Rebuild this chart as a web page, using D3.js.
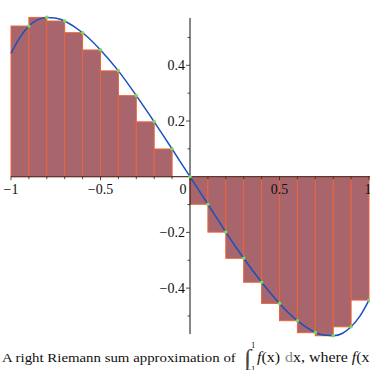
<!DOCTYPE html>
<html>
<head>
<meta charset="utf-8">
<script src="https://cdn.jsdelivr.net/npm/d3@7"></script>
<style>
  body { margin: 0; background: #fff; }
  svg { display: block; }
  text { font-family: "Liberation Serif", serif; }
</style>
</head>
<body>
<svg id="chart" width="370" height="370"></svg>
<script>
// right endpoints of each subinterval and the sampled heights f(x_i)
var rightX = [-0.9, -0.8, -0.7, -0.6, -0.5, -0.4, -0.3, -0.2, -0.1, 0,
              0.1, 0.2, 0.3, 0.4, 0.5, 0.6, 0.7, 0.8, 0.9, 1.0];
var heights = [0.541, 0.572, 0.559, 0.517, 0.455, 0.380, 0.291, 0.197, 0.0995, 0,
               -0.099, -0.199, -0.293, -0.379, -0.455, -0.517, -0.560, -0.571, -0.539, -0.443];
var dxStep = 0.1;

// points
var curveX = [-1, -0.95, -0.9, -0.85, -0.8, -0.75, -0.7, -0.6, -0.5, -0.4, -0.3, -0.2, -0.1, 0,
              0.1, 0.2, 0.3, 0.4, 0.5, 0.6, 0.7, 0.75, 0.8, 0.85, 0.9, 0.95, 1];
var curveY = [0.443, 0.500, 0.541, 0.564, 0.572, 0.569, 0.559, 0.517, 0.455, 0.380, 0.291, 0.197, 0.0995, 0,
              -0.099, -0.199, -0.293, -0.379, -0.455, -0.517, -0.560, -0.569, -0.571, -0.563, -0.539, -0.500, -0.443];

var xTicksMajor = [-1, -0.5, 0, 0.5, 1];
var xTickLabels = ["\u22121", "\u22120.5", "0", "0.5", "1"];
var yTicksMajor = [-0.4, -0.2, 0.2, 0.4];
var yTickLabels = ["\u22120.4", "\u22120.2", "0.2", "0.4"];
var yTicksMinor = [-0.5, -0.3, -0.1, 0.1, 0.3, 0.5];

var svg = d3.select('#chart');

var x = d3.scaleLinear().domain([-1, 1]).range([11, 369]);
var y = d3.scaleLinear().domain([-0.6, 0.6]).range([343.8, 9.6]);

var g = svg.append('g');

// rectangles
g.selectAll('rect.bar')
  .data(rightX.map((d, i) => ({x: d, h: heights[i]})))
  .join('rect')
  .attr('class', 'bar')
  .attr('x', d => x(d.x - dxStep))
  .attr('width', d => x(d.x) - x(d.x - dxStep))
  .attr('y', d => y(Math.max(0, d.h)))
  .attr('height', d => Math.abs(y(d.h) - y(0)))
  .attr('fill', '#a9656c')
  .attr('stroke', '#e9643c')
  .attr('stroke-width', 1);

// x axis line
svg.append('line')
  .attr('x1', x(-1)).attr('x2', 370)
  .attr('y1', y(0)).attr('y2', y(0))
  .attr('stroke', '#5a3a33').attr('stroke-width', 1.2);

// x ticks
var xTicksAll = d3.range(-10, 11).map(d => d / 10);
svg.selectAll('line.xt')
  .data(xTicksAll)
  .join('line')
  .attr('class', 'xt')
  .attr('x1', d => x(d)).attr('x2', d => x(d))
  .attr('y1', y(0)).attr('y2', d => y(0) + (Math.abs(d * 2 - Math.round(d * 2)) < 1e-9 ? 3.5 : 2.5))
  .attr('stroke', '#222').attr('stroke-width', 0.8);

svg.selectAll('text.xl')
  .data(xTicksMajor)
  .join('text')
  .attr('class', 'xl')
  .attr('x', d => d === 0 ? x(d) - 7 : (d === 1 ? x(d) - 1 : x(d)))
  .attr('y', y(0) + 17)
  .attr('text-anchor', 'middle')
  .attr('font-size', 14)
  .attr('fill', '#111')
  .text((d, i) => xTickLabels[i]);

// curve
var line = d3.line()
  .x((d, i) => x(curveX[i]))
  .y(d => y(d))
  .curve(d3.curveNatural);

svg.append('path')
  .attr('d', line(curveY))
  .attr('fill', 'none')
  .attr('stroke', '#1a50c0')
  .attr('stroke-width', 1.5);

// y axis
svg.append('line')
  .attr('x1', x(0)).attr('x2', x(0))
  .attr('y1', y(0.57)).attr('y2', y(-0.565))
  .attr('stroke', '#111').attr('stroke-width', 1);

svg.selectAll('line.ymaj')
  .data(yTicksMajor)
  .join('line')
  .attr('class', 'ymaj')
  .attr('x1', x(0) - 4).attr('x2', x(0))
  .attr('y1', d => y(d)).attr('y2', d => y(d))
  .attr('stroke', '#222').attr('stroke-width', 0.8);

svg.selectAll('line.ymin')
  .data(yTicksMinor)
  .join('line')
  .attr('class', 'ymin')
  .attr('x1', x(0) - 2.5).attr('x2', x(0))
  .attr('y1', d => y(d)).attr('y2', d => y(d))
  .attr('stroke', '#222').attr('stroke-width', 0.8);

svg.selectAll('text.yl')
  .data(yTicksMajor)
  .join('text')
  .attr('class', 'yl')
  .attr('x', x(0) - 5)
  .attr('y', d => y(d) + 4.5)
  .attr('text-anchor', 'end')
  .attr('font-size', 14)
  .attr('fill', '#111')
  .text((d, i) => yTickLabels[i]);

// sample points
svg.selectAll('circle.pt')
  .data(rightX.map((d, i) => ({x: d, h: heights[i]})))
  .join('circle')
  .attr('class', 'pt')
  .attr('cx', d => x(d.x))
  .attr('cy', d => y(d.h))
  .attr('r', 1.8)
  .attr('fill', '#7ed957');

// caption (stretched a little to match the wider serif of the original)
var sx = 1.1;
var cap = svg.append('g').attr('font-size', 13.5).attr('fill', '#111')
  .attr('transform', 'scale(' + sx + ',1)');
cap.append('text').attr('x', 2 / sx).attr('y', 362).text('A right Riemann sum approximation of');
cap.append('text').attr('x', 244 / sx).attr('y', 366).attr('font-size', 24).attr('fill', '#444').text('\u222B');
cap.append('text').attr('x', 251 / sx).attr('y', 348).attr('font-size', 8).text('1');
cap.append('text').attr('x', 246 / sx).attr('y', 372).attr('font-size', 8).text('\u22121');
var t2 = cap.append('text').attr('x', 257 / sx).attr('y', 362).attr('font-size', 14.5);
t2.append('tspan').attr('font-style', 'italic').text('f');
t2.append('tspan').text('(x)');
var t3 = cap.append('text').attr('x', 285 / sx).attr('y', 362).attr('font-size', 14.5);
t3.append('tspan').attr('fill', '#888').text('d');
t3.append('tspan').text('x, where ');
t3.append('tspan').attr('font-style', 'italic').text('f');
t3.append('tspan').text('(x');
</script>
</body>
</html>
